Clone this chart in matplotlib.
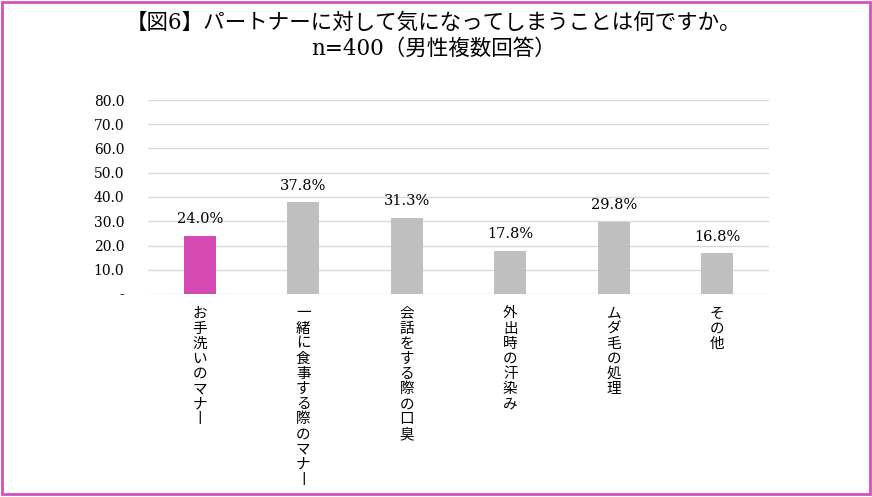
import matplotlib.pyplot as plt
from matplotlib.patches import Rectangle

# data
categories = ['お手洗いのマナー', '一緒に食事する際のマナー', '会話をする際の口臭',
              '外出時の汗染み', 'ムダ毛の処理', 'その他']
values = [24.0, 37.8, 31.3, 17.8, 29.8, 16.8]
highlight = 0
yticks = [0, 10, 20, 30, 40, 50, 60, 70, 80]

title = '【図6】パートナーに対して気になってしまうことは何ですか。\nn=400（男性複数回答）'

pink = '#D64AB4'
grey = '#BFBFBF'
serif_cjk = ['DejaVu Serif', 'Noto Sans CJK JP']


def vertical(s):
    # stack characters top-to-bottom, long vowel mark turned upright
    return '\n'.join('丨' if c == 'ー' else c for c in s)


fig = plt.figure(figsize=(8.72, 4.97), dpi=100)
ax = fig.add_axes([148 / 872, 1 - 294 / 497, (769 - 148) / 872, (294 - 100) / 497])

colors = [pink if i == highlight else grey for i in range(len(values))]
x = list(range(len(values)))
bars = ax.bar(x, values, width=0.305, color=colors, zorder=3)

for xi, v in zip(x, values):
    ax.annotate(f'{v:.1f}%', (xi, v), xytext=(0, 7), textcoords='offset points',
                ha='center', va='bottom', fontsize=10.5, family='DejaVu Serif')

ax.set_xlim(-0.5, len(values) - 0.5)
ax.set_ylim(0, 80)
ax.set_yticks(yticks)
ax.set_yticklabels(['-' if t == 0 else f'{t:.1f}' for t in yticks],
                   fontsize=10, family='DejaVu Serif')
ax.set_xticks(x)
ax.set_xticklabels([vertical(c) for c in categories], fontsize=10.5,
                   family='Noto Sans CJK JP', linespacing=1.1, va='top')
ax.tick_params(axis='both', length=0)
ax.tick_params(axis='y', pad=17)
ax.tick_params(axis='x', pad=9)
ax.grid(axis='y', color='#D9D9D9', linewidth=1, zorder=0)
for s in ax.spines.values():
    s.set_visible(False)

fig.text(0.497, 1 - 36 / 497, title, ha='center', va='center', fontsize=15.5,
         family=serif_cjk, linespacing=1.25)

# pink outer frame
fig.patches.append(Rectangle((1.5 / 872, 3 / 497), 868.5 / 872, 492.5 / 497,
                             transform=fig.transFigure, fill=False,
                             edgecolor='#D64FBE', linewidth=2))

fig.savefig('out.png', dpi=100)
